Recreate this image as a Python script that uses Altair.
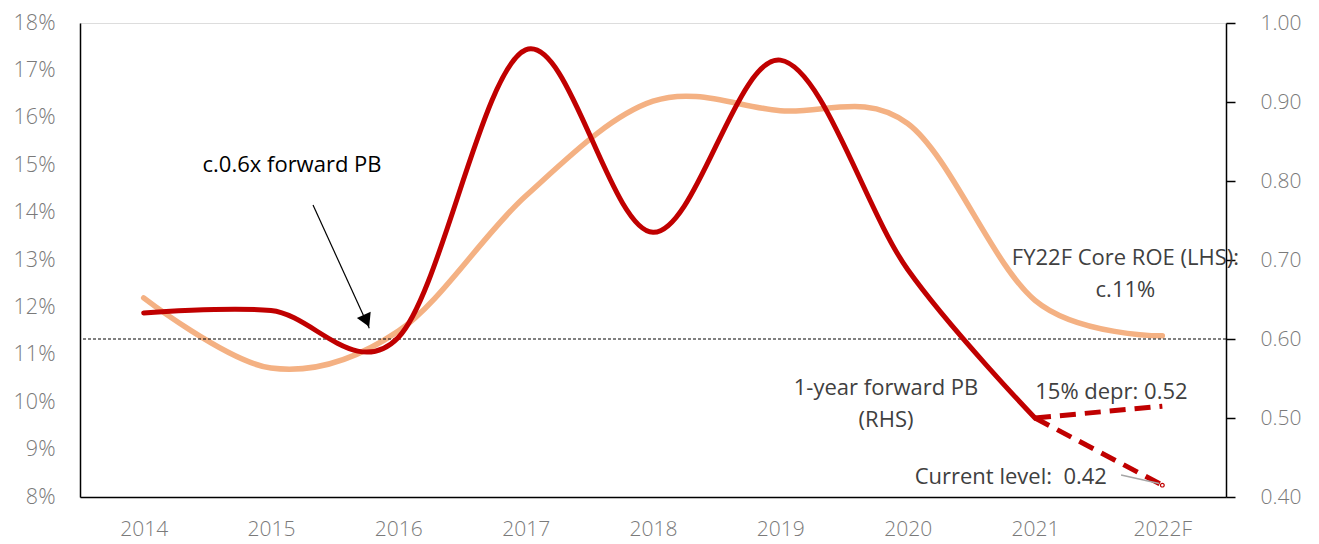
import json
import altair as alt
import pandas as pd

# ---------------- data ----------------
years = ["2014", "2015", "2016", "2017", "2018", "2019", "2020", "2021", "2022F"]
roe = [12.2, 10.72, 11.5, 14.35, 16.35, 16.15, 15.88, 12.15, 11.4]          # % (LHS)
pb = [0.633, 0.636, 0.602, 0.966, 0.735, 0.953, 0.688, 0.500]                # x (RHS)
depr_idx = [7, 8]
depr_pb = [0.500, 0.515]
cur_idx = [7, 8]
cur_pb = [0.500, 0.415]
ref_pb = 0.60

ann_text = ["c.0.6x forward PB", "FY22F Core ROE (LHS):", "c.11%", "1-year forward PB",
            "(RHS)", "15% depr: 0.52", "Current level:\u00a0 0.42"]
ann_x = [1.165, 7.71, 7.71, 5.83, 5.83, 7.6, 6.81]
ann_v = [0.820, 0.7025, 0.662, 0.538, 0.4975, 0.533, 0.425]
ann_color = ["#000000", "#404040", "#404040", "#404040", "#404040", "#404040", "#404040"]

arrow_x, arrow_v, arrow_x2, arrow_v2 = [1.33], [0.7696], [1.772], [0.6135]
head_x, head_v = [1.750], [0.623]
leader_x, leader_v, leader_x2, leader_v2 = [7.676], [0.4278], [7.975], [0.4170]

RED = "#C00000"
ORANGE = "#F4B183"
FONT = "Open Sans"
TICK_GREY = "#7A7A7A"

# ---------------- encodings ----------------
X = alt.X(
    "x:Q",
    scale=alt.Scale(domain=[-0.5, 8.5], nice=False, zero=False),
    axis=alt.Axis(
        values=list(range(len(years))),
        labelExpr=json.dumps(years) + "[datum.value]",
        ticks=False, tickSize=0, grid=False, title=None,
        domainColor="black", domainWidth=1.5,
        labelColor=TICK_GREY, labelFontSize=21, labelFont=FONT, labelFontWeight=300,
        labelPadding=21, labelFlush=False,
    ),
)

YL = alt.Y(
    "roe:Q",
    scale=alt.Scale(domain=[8, 18], nice=False, zero=False),
    axis=alt.Axis(
        orient="left", values=list(range(8, 19)), labelExpr="datum.value + '%'",
        ticks=False, tickSize=0, grid=False, title=None,
        domainColor="black", domainWidth=1.5,
        labelColor=TICK_GREY, labelFontSize=21.5, labelFont=FONT, labelFontWeight=300,
        labelPadding=25,
    ),
)

YR = alt.Y(
    "v:Q",
    scale=alt.Scale(domain=[0.4, 1.0], nice=False, zero=False),
    axis=alt.Axis(
        orient="right", values=[0.4, 0.5, 0.6, 0.7, 0.8, 0.9, 1.0], format=".2f",
        ticks=True, tickSize=9, tickColor="black", tickWidth=1.5, grid=False, title=None,
        domainColor="black", domainWidth=1.5,
        labelColor=TICK_GREY, labelFontSize=21, labelFont=FONT, labelFontWeight=300,
        labelPadding=25,
    ),
)

# ---------------- left layer ----------------
roe_df = pd.DataFrame({"x": list(range(len(years))), "roe": roe})
roe_line = alt.Chart(roe_df).mark_line(
    color=ORANGE, strokeWidth=5.5, interpolate="cardinal", tension=0, strokeCap="round"
).encode(x=X, y=YL)

left = alt.layer(roe_line)

# ---------------- right layer ----------------
pb_df = pd.DataFrame({"x": list(range(len(pb))), "v": pb})
pb_line = alt.Chart(pb_df).mark_line(
    color=RED, strokeWidth=5, interpolate="cardinal", tension=0, strokeCap="round"
).encode(x=X, y=YR)

depr_df = pd.DataFrame({"x": depr_idx, "v": depr_pb})
depr_line = alt.Chart(depr_df).mark_line(
    color=RED, strokeWidth=5, strokeDash=[16, 9]
).encode(x=X, y=YR)

cur_df = pd.DataFrame({"x": cur_idx, "v": cur_pb})
cur_line = alt.Chart(cur_df).mark_line(
    color=RED, strokeWidth=5, strokeDash=[16, 9]
).encode(x=X, y=YR)

ref_df = pd.DataFrame({"v": [ref_pb]})
ref_rule = alt.Chart(ref_df).mark_rule(
    color="black", strokeWidth=1, strokeDash=[3, 2]
).encode(y=YR)

arrow_df = pd.DataFrame({"x": arrow_x, "v": arrow_v, "x2": arrow_x2, "v2": arrow_v2})
arrow = alt.Chart(arrow_df).mark_rule(color="black", strokeWidth=1.2).encode(
    x=X, y=YR, x2="x2:Q", y2="v2:Q"
)
head_df = pd.DataFrame({"x": head_x, "v": head_v})
head = alt.Chart(head_df).mark_point(
    shape="triangle-up", filled=True, color="black", opacity=1, size=230, angle=155.5
).encode(x=X, y=YR)

leader_df = pd.DataFrame({"x": leader_x, "v": leader_v, "x2": leader_x2, "v2": leader_v2})
leader = alt.Chart(leader_df).mark_rule(color="#A6A6A6", strokeWidth=1.5).encode(
    x=X, y=YR, x2="x2:Q", y2="v2:Q"
)
end_df = pd.DataFrame({"x": [cur_idx[-1]], "v": [cur_pb[-1]]})
end_pt = alt.Chart(end_df).mark_point(
    color=RED, filled=False, size=14, strokeWidth=1.2, opacity=1
).encode(x=X, y=YR)

ann_df = pd.DataFrame({"x": ann_x, "v": ann_v, "t": ann_text, "c": ann_color})
ann = alt.Chart(ann_df).mark_text(
    font=FONT, fontSize=22, align="center", baseline="middle"
).encode(x=X, y=YR, text="t:N", color=alt.Color("c:N", scale=None))

right = alt.layer(ref_rule, pb_line, depr_line, cur_line, leader, end_pt, arrow, head, ann)

chart = (
    alt.layer(left, right)
    .resolve_scale(y="independent")
    .properties(
        width=1146, height=474,
        autosize=alt.AutoSizeParams(type="none"),
        padding={"left": 72, "top": 15, "right": 85, "bottom": 48},
    )
    .configure_view(stroke=None)
    .configure(font=FONT)
)

chart.save("out.html", embed_options={"renderer": "svg", "actions": False})
